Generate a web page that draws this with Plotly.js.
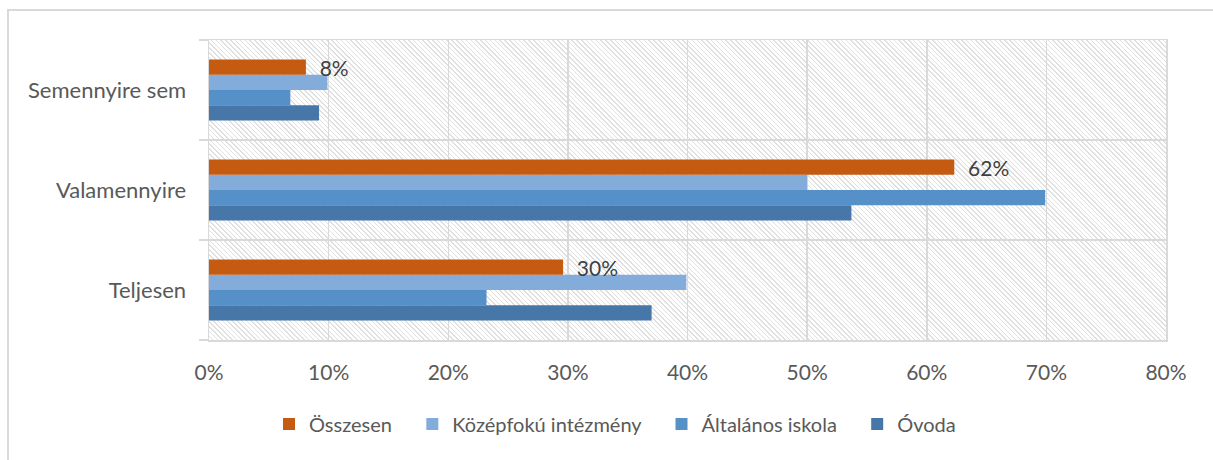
<!DOCTYPE html>
<html>
<head>
<meta charset="utf-8">
<script src="https://cdn.plot.ly/plotly-3.0.1.min.js"></script>
<style>
  body { margin: 0; background: #fff; }
  #wrap { position: relative; width: 1213px; height: 460px; overflow: hidden; }
  /* keret a diagram körül (csak felül és bal oldalt látszik) */
  #keret { position: absolute; left: 7px; top: 9px; width: 1300px; height: 500px;
           border-top: 2px solid #d9d9d9; border-left: 2px solid #d9d9d9; }
  /* csíkozott háttér a rajzterületen */
  #minta { position: absolute;
           background: repeating-linear-gradient(45deg, #ffffff 0px, #ffffff 2.3px, #e0e0e0 2.3px, #e0e0e0 3.4px); }
  #chart { position: absolute; left: 0; top: 0; width: 1213px; height: 460px; }
</style>
</head>
<body>
<div id="wrap">
  <div id="keret"></div>
  <div id="minta"></div>
  <div id="chart"></div>
</div>
<script>
// Kategóriák (alulról felfelé)
var kategoriak = ['Teljesen', 'Valamennyire', 'Semennyire sem'];

// Sorozatok, % értékek
var ovoda      = [37.0, 53.7, 9.2];
var altalanos  = [23.2, 69.9, 6.8];
var kozepfoku  = [39.9, 50.0, 9.9];
var osszesen   = [29.6, 62.3, 8.1];

var xTickek = [0, 10, 20, 30, 40, 50, 60, 70, 80];
var xFeliratok = ['0%', '10%', '20%', '30%', '40%', '50%', '60%', '70%', '80%'];

// Színek
var szinOvoda = '#4677a8';
var szinAltalanos = '#5591c8';
var szinKozepfoku = '#83acdb';
var szinOsszesen = '#c55a11';

var betu = 'Lato, "Open Sans", sans-serif';
var koz = '\u00a0\u00a0\u00a0';  // hely a jelmagyarázat elemei között

function sor(nev, ertekek, szin){
  return {
    type: 'bar',
    orientation: 'h',
    name: nev,
    x: ertekek,
    y: kategoriak,
    marker: { color: szin, line: { width: 0 } },
    hoverinfo: 'x+name'
  };
}

var traceOvoda = sor('Óvoda', ovoda, szinOvoda);
var traceAlt = sor('Általános iskola' + koz, altalanos, szinAltalanos);
var traceKoz = sor('Középfokú intézmény' + koz, kozepfoku, szinKozepfoku);
var traceOssz = sor('Összesen' + koz, osszesen, szinOsszesen);
traceOssz.texttemplate = '\u00a0\u00a0%{x:.0f}%';
traceOssz.textposition = 'outside';
traceOssz.constraintext = 'none';
traceOssz.cliponaxis = false;
traceOssz.textfont = { family: betu, size: 21, color: '#404040' };

var data = [traceOvoda, traceAlt, traceKoz, traceOssz];

var layout = {
  width: 1213,
  height: 460,
  margin: { l: 209, r: 47, t: 40, b: 120 },
  paper_bgcolor: 'rgba(0,0,0,0)',
  plot_bgcolor: 'rgba(0,0,0,0)',
  font: { family: betu, size: 21, color: '#595959' },
  barmode: 'group',
  bargap: 0.39,
  bargroupgap: 0,
  showlegend: true,
  legend: {
    orientation: 'h',
    traceorder: 'reversed',
    xref: 'container', yref: 'container',
    x: 0.507, xanchor: 'center',
    y: 0.078, yanchor: 'middle',
    font: { family: betu, size: 20, color: '#595959' },
    itemclick: false
  },
  xaxis: {
    range: [0, 80],
    tickmode: 'array',
    tickvals: xTickek,
    ticktext: xFeliratok,
    showgrid: true,
    gridcolor: '#d9d9d9',
    gridwidth: 1.5,
    showline: true,
    linecolor: '#d9d9d9',
    linewidth: 1.5,
    mirror: true,
    ticks: '',
    ticklabelstandoff: 13,
    zeroline: false,
    fixedrange: true
  },
  yaxis: {
    type: 'category',
    tickson: 'boundaries',
    ticks: 'outside',
    ticklen: 9,
    tickcolor: '#d9d9d9',
    tickwidth: 1.5,
    showgrid: true,
    gridcolor: '#d9d9d9',
    gridwidth: 1.5,
    showline: true,
    linecolor: '#d9d9d9',
    linewidth: 1.5,
    mirror: true,
    ticklabelstandoff: 17,
    tickfont: { family: betu, size: 22, color: '#595959' },
    fixedrange: true
  }
};

Plotly.newPlot('chart', data, layout, { displayModeBar: false, staticPlot: true }).then(function(gd){
  var s = gd._fullLayout._size;
  var minta = document.getElementById('minta');
  minta.style.left = s.l + 'px';
  minta.style.top = s.t + 'px';
  minta.style.width = s.w + 'px';
  minta.style.height = s.h + 'px';
});
</script>
</body>
</html>
